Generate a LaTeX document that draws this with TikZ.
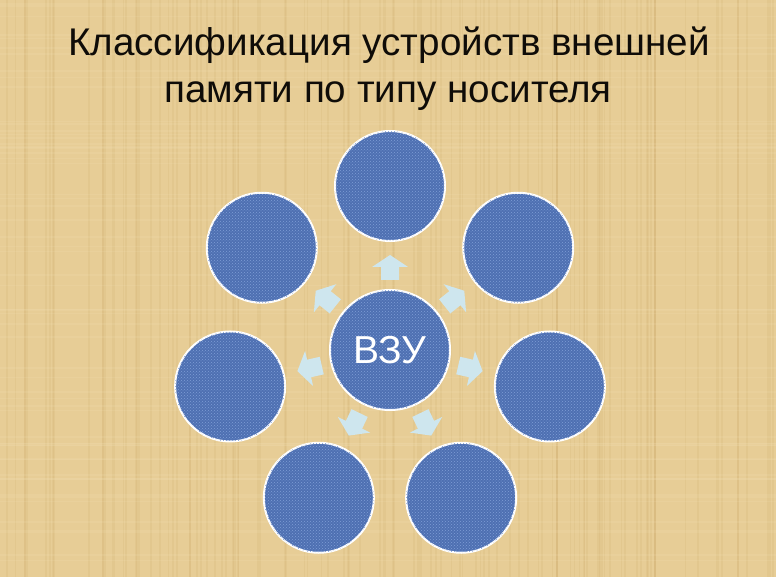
\documentclass[tikz,border=0pt]{standalone}
\usepackage{fontspec}
\setmainfont{Liberation Sans}
\usetikzlibrary{patterns}
\definecolor{bgtan}{RGB}{231,205,150}
\definecolor{bgdark}{RGB}{200,165,100}
\definecolor{bglight}{RGB}{245,228,185}
\definecolor{circblue}{RGB}{78,112,178}
\definecolor{circlight}{RGB}{128,158,214}
\definecolor{arrcyan}{RGB}{206,230,238}
\definecolor{titleink}{RGB}{15,12,8}
\begin{document}
\begin{tikzpicture}[x=1pt,y=-1pt,
  circ/.style={circle, draw=white, line width=2pt, fill=circblue, inner sep=0pt,
    postaction={pattern=crosshatch dots, pattern color=circlight}},
  outercirc/.style={circ, minimum size=110pt},
  centercirc/.style={circ, minimum size=120pt},
  titletext/.style={anchor=base, text=titleink, font=\fontsize{38.6}{45}\selectfont, inner sep=0pt},
  blockarrow/.style={fill=arrcyan, draw=none}]
\useasboundingbox (0,0) rectangle (776,577);
\fill[bgtan] (0,0) rectangle (776,577);
% woven background texture
\pgfmathsetseed{7}
\foreach \k in {1,...,110}{
  \pgfmathsetmacro\xx{random(0,776)}
  \pgfmathsetmacro\ww{0.5+2.5*rnd}
  \draw[bgdark, line width=\ww pt, opacity=0.15] (\xx,0) -- (\xx,577);
}
\foreach \k in {1,...,60}{
  \pgfmathsetmacro\yy{random(0,577)}
  \pgfmathsetmacro\ww{0.5+1.2*rnd}
  \draw[bglight, line width=\ww pt, opacity=0.15] (0,\yy) -- (776,\yy);
}
% title
\node[titletext] (t1) at (389,56) {Классификация устройств внешней};
\node[titletext] (t2) at (388,103) {памяти по типу носителя};
% arrows
\foreach \i in {0,...,6}{
  \pgfmathsetmacro\a{90-\i*360/7}
  \begin{scope}[shift={(390,350)}, rotate=\a]
    \fill[blockarrow] (70,-9) -- (83,-9) -- (83,-18) -- (95,0) -- (83,18) -- (83,9) -- (70,9) -- cycle;
  \end{scope}
}
% circles
\node[centercirc, text=white, font=\fontsize{39}{42}\selectfont] (c) at (390,350) {ВЗУ};
\foreach \i in {0,...,6}{
  \pgfmathsetmacro\a{90-\i*360/7}
  \node[outercirc] (o\i) at ({390+164*cos(\a)},{350-164*sin(\a)}) {};
}
\end{tikzpicture}
\end{document}
